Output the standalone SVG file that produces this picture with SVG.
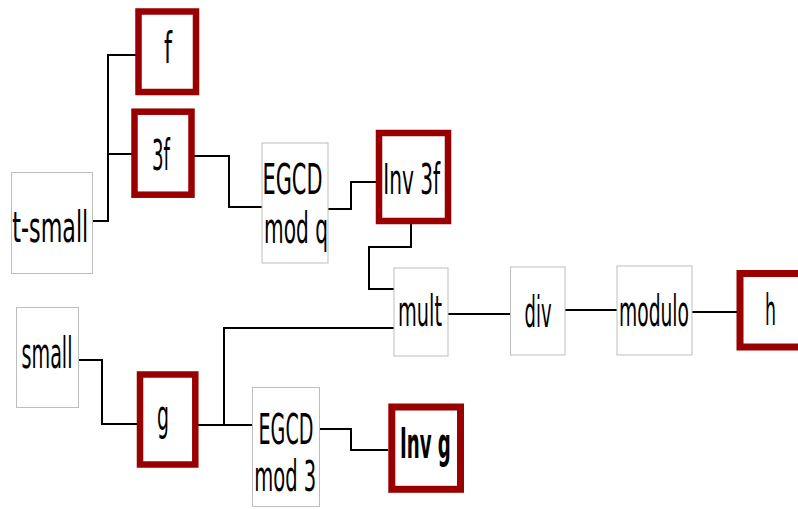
<svg xmlns="http://www.w3.org/2000/svg" width="798" height="509" viewBox="0 0 798 509">
<style>
.plain{fill:#fff;stroke:#bdbdbd;stroke-width:1}
.hl{fill:#fff;stroke:#990000;stroke-width:6.5}
.lbl{font-family:"DejaVu Sans",sans-serif;font-size:42px;fill:#000;text-anchor:middle}
.bold{font-weight:bold}
.wire{fill:none;stroke:#000;stroke-width:2}
</style>
<rect width="798" height="509" fill="#fff"/>
<g id="connectors">
<path class="wire" d="M93,221 H108 V55 H138"/>
<path class="wire" d="M108,154 H134"/>
<path class="wire" d="M194,156 H229 V207 H262"/>
<path class="wire" d="M328,209 H351 V182 H376"/>
<path class="wire" d="M411,221 V247 H369 V289 H394"/>
<path class="wire" d="M79,360 H102 V424 H137"/>
<path class="wire" d="M198,425 H252"/>
<path class="wire" d="M224,425 V328 H394"/>
<path class="wire" d="M319,429 H351 V450 H388"/>
<path class="wire" d="M448,314 H510"/>
<path class="wire" d="M565,310 H617"/>
<path class="wire" d="M692,312 H737"/>
</g>
<g id="f"><rect class="hl" x="138.5" y="11.5" width="57.5" height="80.5"/><text class="lbl" x="168" y="63" textLength="8" lengthAdjust="spacingAndGlyphs">f</text></g>
<g id="3f"><rect class="hl" x="134.5" y="111.7" width="57" height="83"/><text class="lbl" x="161" y="169.5" textLength="18" lengthAdjust="spacingAndGlyphs">3f</text></g>
<g id="t-small"><rect class="plain" x="11.5" y="172.5" width="81" height="101"/><text class="lbl" x="50.3" y="241.7" textLength="76" lengthAdjust="spacingAndGlyphs">t-small</text></g>
<g id="egcd-q"><rect class="plain" x="262" y="143" width="66" height="120"/><text class="lbl" x="292.5" y="194" textLength="60" lengthAdjust="spacingAndGlyphs">EGCD</text><text class="lbl" x="296" y="243" textLength="64" lengthAdjust="spacingAndGlyphs">mod q</text></g>
<g id="inv-3f"><rect class="hl" x="379" y="133" width="69" height="88"/><text class="lbl" x="411.7" y="194" textLength="57" lengthAdjust="spacingAndGlyphs">Inv 3f</text></g>
<g id="mult"><rect class="plain" x="394" y="268" width="54" height="88"/><text class="lbl" x="420" y="326" textLength="44" lengthAdjust="spacingAndGlyphs">mult</text></g>
<g id="div"><rect class="plain" x="510.5" y="267" width="54.5" height="88"/><text class="lbl" x="538" y="327" textLength="27" lengthAdjust="spacingAndGlyphs">div</text></g>
<g id="modulo"><rect class="plain" x="617" y="266" width="75" height="89"/><text class="lbl" x="654" y="326" textLength="70" lengthAdjust="spacingAndGlyphs">modulo</text></g>
<g id="h"><rect class="hl" x="740" y="273.5" width="62" height="73.5" style="stroke-width:7"/><text class="lbl" x="770.5" y="325" textLength="11" lengthAdjust="spacingAndGlyphs">h</text></g>
<g id="small"><rect class="plain" x="16.5" y="307.5" width="62" height="100"/><text class="lbl" x="47" y="368.3" textLength="51" lengthAdjust="spacingAndGlyphs">small</text></g>
<g id="g"><rect class="hl" x="140" y="374.5" width="55.3" height="90"/><text class="lbl" x="163" y="430" textLength="12" lengthAdjust="spacingAndGlyphs">g</text></g>
<g id="egcd-3"><rect class="plain" x="252.5" y="387.5" width="67" height="119"/><text class="lbl" x="286" y="444" textLength="55" lengthAdjust="spacingAndGlyphs">EGCD</text><text class="lbl" x="285.3" y="490.7" textLength="62" lengthAdjust="spacingAndGlyphs">mod 3</text></g>
<g id="inv-g"><rect class="hl" x="391.8" y="407" width="68.7" height="82.3" style="stroke-width:7"/><text class="lbl bold" x="425.4" y="458.3" textLength="51" lengthAdjust="spacingAndGlyphs">Inv g</text></g>
</svg>
